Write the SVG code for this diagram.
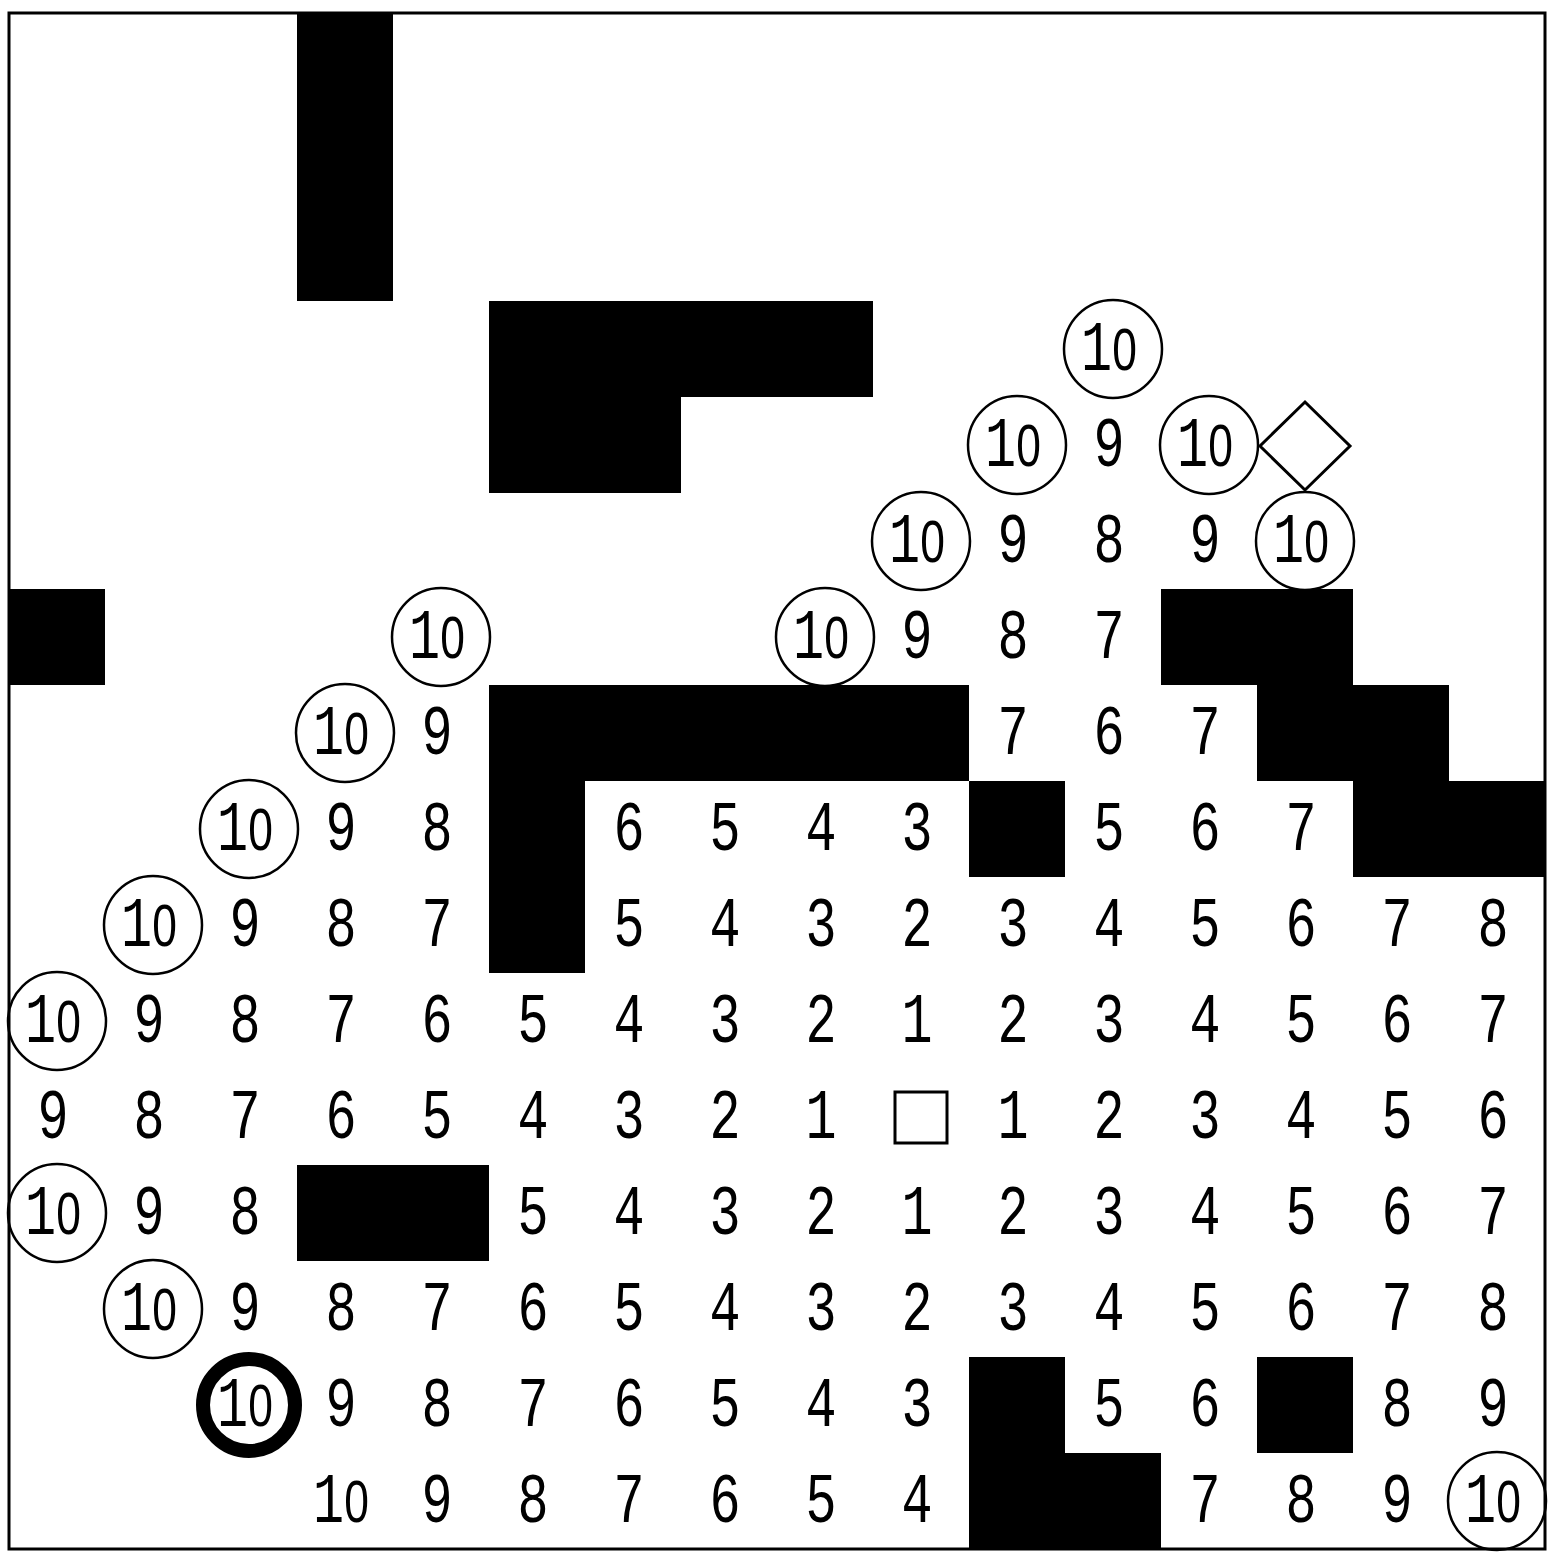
<svg xmlns="http://www.w3.org/2000/svg" width="1558" height="1564" viewBox="0 0 1558 1564">
<style>
.wall{fill:#000}
.n{font-family:"Liberation Mono","DejaVu Sans Mono",monospace;font-size:70px;fill:#000;text-anchor:middle;transform-box:fill-box;transform-origin:center;transform:scaleX(0.74)}
.z{font-family:"Liberation Sans",Arial,sans-serif;font-size:60px}
.c{fill:none;stroke:#000;stroke-width:2.5}
.cb{fill:none;stroke:#000;stroke-width:14}
.m{fill:none;stroke:#000;stroke-width:3}
</style>
<rect x="0" y="0" width="1558" height="1564" fill="#fff"/>
<g id="walls">
<rect class="wall" x="297" y="13" width="96" height="288"/>
<rect class="wall" x="489" y="301" width="384" height="96"/>
<rect class="wall" x="489" y="397" width="192" height="96"/>
<rect class="wall" x="9" y="589" width="96" height="96"/>
<rect class="wall" x="1161" y="589" width="192" height="96"/>
<rect class="wall" x="489" y="685" width="480" height="96"/>
<rect class="wall" x="1257" y="685" width="192" height="96"/>
<rect class="wall" x="489" y="781" width="96" height="192"/>
<rect class="wall" x="969" y="781" width="96" height="96"/>
<rect class="wall" x="1353" y="781" width="192" height="96"/>
<rect class="wall" x="297" y="1165" width="192" height="96"/>
<rect class="wall" x="969" y="1357" width="96" height="192"/>
<rect class="wall" x="1065" y="1453" width="96" height="96"/>
<rect class="wall" x="1257" y="1357" width="96" height="96"/>
</g>
<g id="circles">
<circle class="c" cx="1113" cy="349" r="49"/>
<circle class="c" cx="1017" cy="445" r="49"/>
<circle class="c" cx="1209" cy="445" r="49"/>
<circle class="c" cx="921" cy="541" r="49"/>
<circle class="c" cx="1305" cy="541" r="49"/>
<circle class="c" cx="441" cy="637" r="49"/>
<circle class="c" cx="825" cy="637" r="49"/>
<circle class="c" cx="345" cy="733" r="49"/>
<circle class="c" cx="249" cy="829" r="49"/>
<circle class="c" cx="153" cy="925" r="49"/>
<circle class="c" cx="57" cy="1021" r="49"/>
<circle class="c" cx="57" cy="1213" r="49"/>
<circle class="c" cx="153" cy="1309" r="49"/>
<circle class="cb" cx="249" cy="1405" r="46"/>
<circle class="c" cx="1497" cy="1501" r="49"/>
</g>
<g id="goal"><polygon class="m" points="1305,402 1350,446 1305,490 1260,446" stroke-width="2.5"/></g>
<g id="start"><rect class="m" x="895" y="1092" width="52" height="51"/></g>
<g id="labels">
<text class="n" x="1109" y="370">1<tspan class="z">0</tspan></text>
<text class="n" x="1013" y="466">1<tspan class="z">0</tspan></text><text class="n" x="1109" y="466">9</text><text class="n" x="1205" y="466">1<tspan class="z">0</tspan></text>
<text class="n" x="917" y="562">1<tspan class="z">0</tspan></text><text class="n" x="1013" y="562">9</text><text class="n" x="1109" y="562">8</text><text class="n" x="1205" y="562">9</text><text class="n" x="1301" y="562">1<tspan class="z">0</tspan></text>
<text class="n" x="437" y="658">1<tspan class="z">0</tspan></text><text class="n" x="821" y="658">1<tspan class="z">0</tspan></text><text class="n" x="917" y="658">9</text><text class="n" x="1013" y="658">8</text><text class="n" x="1109" y="658">7</text>
<text class="n" x="341" y="754">1<tspan class="z">0</tspan></text><text class="n" x="437" y="754">9</text><text class="n" x="1013" y="754">7</text><text class="n" x="1109" y="754">6</text><text class="n" x="1205" y="754">7</text>
<text class="n" x="245" y="850">1<tspan class="z">0</tspan></text><text class="n" x="341" y="850">9</text><text class="n" x="437" y="850">8</text><text class="n" x="629" y="850">6</text><text class="n" x="725" y="850">5</text><text class="n" x="821" y="850">4</text><text class="n" x="917" y="850">3</text><text class="n" x="1109" y="850">5</text><text class="n" x="1205" y="850">6</text><text class="n" x="1301" y="850">7</text>
<text class="n" x="149" y="946">1<tspan class="z">0</tspan></text><text class="n" x="245" y="946">9</text><text class="n" x="341" y="946">8</text><text class="n" x="437" y="946">7</text><text class="n" x="629" y="946">5</text><text class="n" x="725" y="946">4</text><text class="n" x="821" y="946">3</text><text class="n" x="917" y="946">2</text><text class="n" x="1013" y="946">3</text><text class="n" x="1109" y="946">4</text><text class="n" x="1205" y="946">5</text><text class="n" x="1301" y="946">6</text><text class="n" x="1397" y="946">7</text><text class="n" x="1493" y="946">8</text>
<text class="n" x="53" y="1042">1<tspan class="z">0</tspan></text><text class="n" x="149" y="1042">9</text><text class="n" x="245" y="1042">8</text><text class="n" x="341" y="1042">7</text><text class="n" x="437" y="1042">6</text><text class="n" x="533" y="1042">5</text><text class="n" x="629" y="1042">4</text><text class="n" x="725" y="1042">3</text><text class="n" x="821" y="1042">2</text><text class="n" x="917" y="1042">1</text><text class="n" x="1013" y="1042">2</text><text class="n" x="1109" y="1042">3</text><text class="n" x="1205" y="1042">4</text><text class="n" x="1301" y="1042">5</text><text class="n" x="1397" y="1042">6</text><text class="n" x="1493" y="1042">7</text>
<text class="n" x="53" y="1138">9</text><text class="n" x="149" y="1138">8</text><text class="n" x="245" y="1138">7</text><text class="n" x="341" y="1138">6</text><text class="n" x="437" y="1138">5</text><text class="n" x="533" y="1138">4</text><text class="n" x="629" y="1138">3</text><text class="n" x="725" y="1138">2</text><text class="n" x="821" y="1138">1</text><text class="n" x="1013" y="1138">1</text><text class="n" x="1109" y="1138">2</text><text class="n" x="1205" y="1138">3</text><text class="n" x="1301" y="1138">4</text><text class="n" x="1397" y="1138">5</text><text class="n" x="1493" y="1138">6</text>
<text class="n" x="53" y="1234">1<tspan class="z">0</tspan></text><text class="n" x="149" y="1234">9</text><text class="n" x="245" y="1234">8</text><text class="n" x="533" y="1234">5</text><text class="n" x="629" y="1234">4</text><text class="n" x="725" y="1234">3</text><text class="n" x="821" y="1234">2</text><text class="n" x="917" y="1234">1</text><text class="n" x="1013" y="1234">2</text><text class="n" x="1109" y="1234">3</text><text class="n" x="1205" y="1234">4</text><text class="n" x="1301" y="1234">5</text><text class="n" x="1397" y="1234">6</text><text class="n" x="1493" y="1234">7</text>
<text class="n" x="149" y="1330">1<tspan class="z">0</tspan></text><text class="n" x="245" y="1330">9</text><text class="n" x="341" y="1330">8</text><text class="n" x="437" y="1330">7</text><text class="n" x="533" y="1330">6</text><text class="n" x="629" y="1330">5</text><text class="n" x="725" y="1330">4</text><text class="n" x="821" y="1330">3</text><text class="n" x="917" y="1330">2</text><text class="n" x="1013" y="1330">3</text><text class="n" x="1109" y="1330">4</text><text class="n" x="1205" y="1330">5</text><text class="n" x="1301" y="1330">6</text><text class="n" x="1397" y="1330">7</text><text class="n" x="1493" y="1330">8</text>
<text class="n" x="245" y="1426">1<tspan class="z">0</tspan></text><text class="n" x="341" y="1426">9</text><text class="n" x="437" y="1426">8</text><text class="n" x="533" y="1426">7</text><text class="n" x="629" y="1426">6</text><text class="n" x="725" y="1426">5</text><text class="n" x="821" y="1426">4</text><text class="n" x="917" y="1426">3</text><text class="n" x="1109" y="1426">5</text><text class="n" x="1205" y="1426">6</text><text class="n" x="1397" y="1426">8</text><text class="n" x="1493" y="1426">9</text>
<text class="n" x="341" y="1522">1<tspan class="z">0</tspan></text><text class="n" x="437" y="1522">9</text><text class="n" x="533" y="1522">8</text><text class="n" x="629" y="1522">7</text><text class="n" x="725" y="1522">6</text><text class="n" x="821" y="1522">5</text><text class="n" x="917" y="1522">4</text><text class="n" x="1205" y="1522">7</text><text class="n" x="1301" y="1522">8</text><text class="n" x="1397" y="1522">9</text><text class="n" x="1493" y="1522">1<tspan class="z">0</tspan></text>
</g>
<rect x="9" y="13" width="1536" height="1536" fill="none" stroke="#000" stroke-width="3"/>
</svg>
